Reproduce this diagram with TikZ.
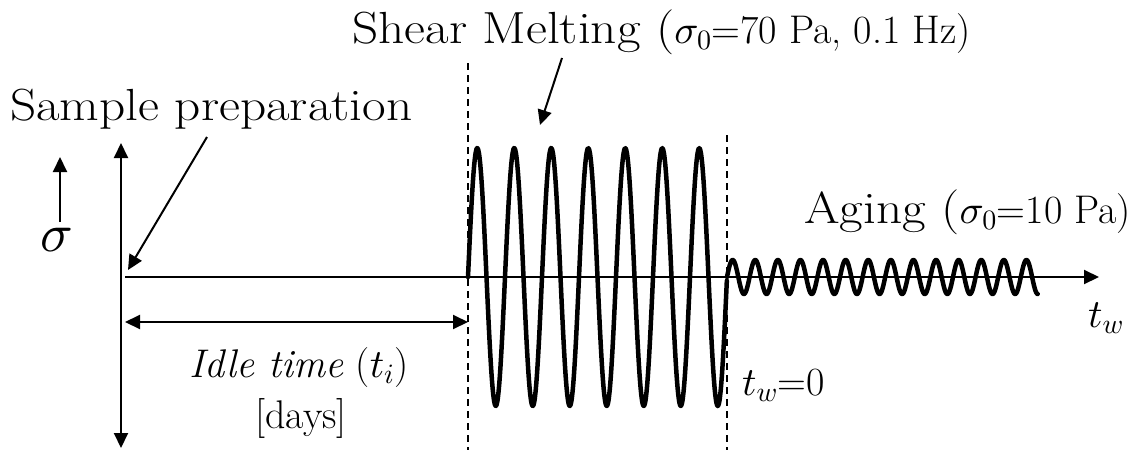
\documentclass[tikz,border=0pt]{standalone}
\usepackage{fontspec}
\usetikzlibrary{arrows.meta}
\DeclareFontShape{OML}{cmm}{m}{it}{<->cmmi10}{}
\DeclareFontShape{OT1}{cmr}{m}{n}{<->cmr10}{}
\DeclareFontShape{OMS}{cmsy}{m}{n}{<->cmsy10}{}
\newcommand{\centsize}{\fontsize{45}{52}\selectfont}
\newcommand{\wide}[1]{\scalebox{1.14}[1]{#1}}
\begin{document}
\begin{tikzpicture}[x=1pt,y=-1pt,
  thinaxis/.style={line width=2pt},
  onetip/.style={thinaxis,-{Triangle[length=15pt,width=14pt]}},
  bothtip/.style={thinaxis,{Triangle[length=15pt,width=14pt]}-{Triangle[length=15pt,width=14pt]}},
  guide/.style={line width=1.6pt,dash pattern=on 7pt off 5pt},
  wave/.style={line width=4.5pt,line join=round,line cap=round},
  centtext/.style={inner sep=0pt,font=\centsize},
  tmstext/.style={inner sep=0pt,font=\fontsize{40}{48}\selectfont}]
\useasboundingbox[fill=white] (0,0) rectangle (1132,450);

% coordinates
\coordinate (vtop) at (121,143);
\coordinate (vbot) at (121,448);
\coordinate (ax0) at (125,277);
\coordinate (ax1) at (1099,277);
\coordinate (up0) at (60,222);
\coordinate (up1) at (60,157);
\coordinate (spA) at (207,137);
\coordinate (spB) at (128,270);
\coordinate (idL) at (125,322);
\coordinate (idR) at (468,322);
\coordinate (d1t) at (468,63);
\coordinate (d1b) at (468,450);
\coordinate (d2t) at (727,135);
\coordinate (d2b) at (727,450);
\coordinate (smA) at (562,58);
\coordinate (smB) at (540,125);

% dashed guides
\draw[guide] (d1t) -- (d1b);
\draw[guide] (d2t) -- (d2b);

% axes
\draw[bothtip] (vbot) -- (vtop);
\draw[onetip] (ax0) -- (ax1);
\draw[onetip] (up0) -- (up1);
\draw[bothtip] (idL) -- (idR);

% waves
\draw[wave] plot[domain=0:7,samples=400,smooth] ({468+\x*37},{277-129*sin(\x*360)});
\draw[wave] plot[domain=0:13.75,samples=600,smooth] ({727+\x*22.6},{277-17*sin(\x*360)});

% pointer arrows
\draw[onetip] (spA) -- (spB);
\draw[onetip] (smA) -- (smB);

% labels
\node[centtext,anchor=base west] (sp) at (10,120) {\wide{Sample preparation}};
\node[tmstext,anchor=base west] (sm) at (352,43) {\wide{\centsize Shear Melting (}$\sigma_0$=70 Pa, 0.1 Hz)};
\node[tmstext,anchor=base west] (ag) at (804,223) {\wide{\centsize Aging (}$\sigma_0$=10 Pa)};
\node[tmstext,anchor=base west] (idle) at (189,377) {\textit{Idle time} ($t_i$)};
\node[tmstext,anchor=base west] (days) at (255,428) {[days]};
\node[tmstext,anchor=base west] (tw0) at (742,395) {$t_w$=0};
\node[tmstext,anchor=base west] (tw) at (1088,327) {$t_w$};
\node[tmstext,font=\fontsize{54}{60}\selectfont] (sig) at (57,240) {$\sigma$};
\end{tikzpicture}
\end{document}
